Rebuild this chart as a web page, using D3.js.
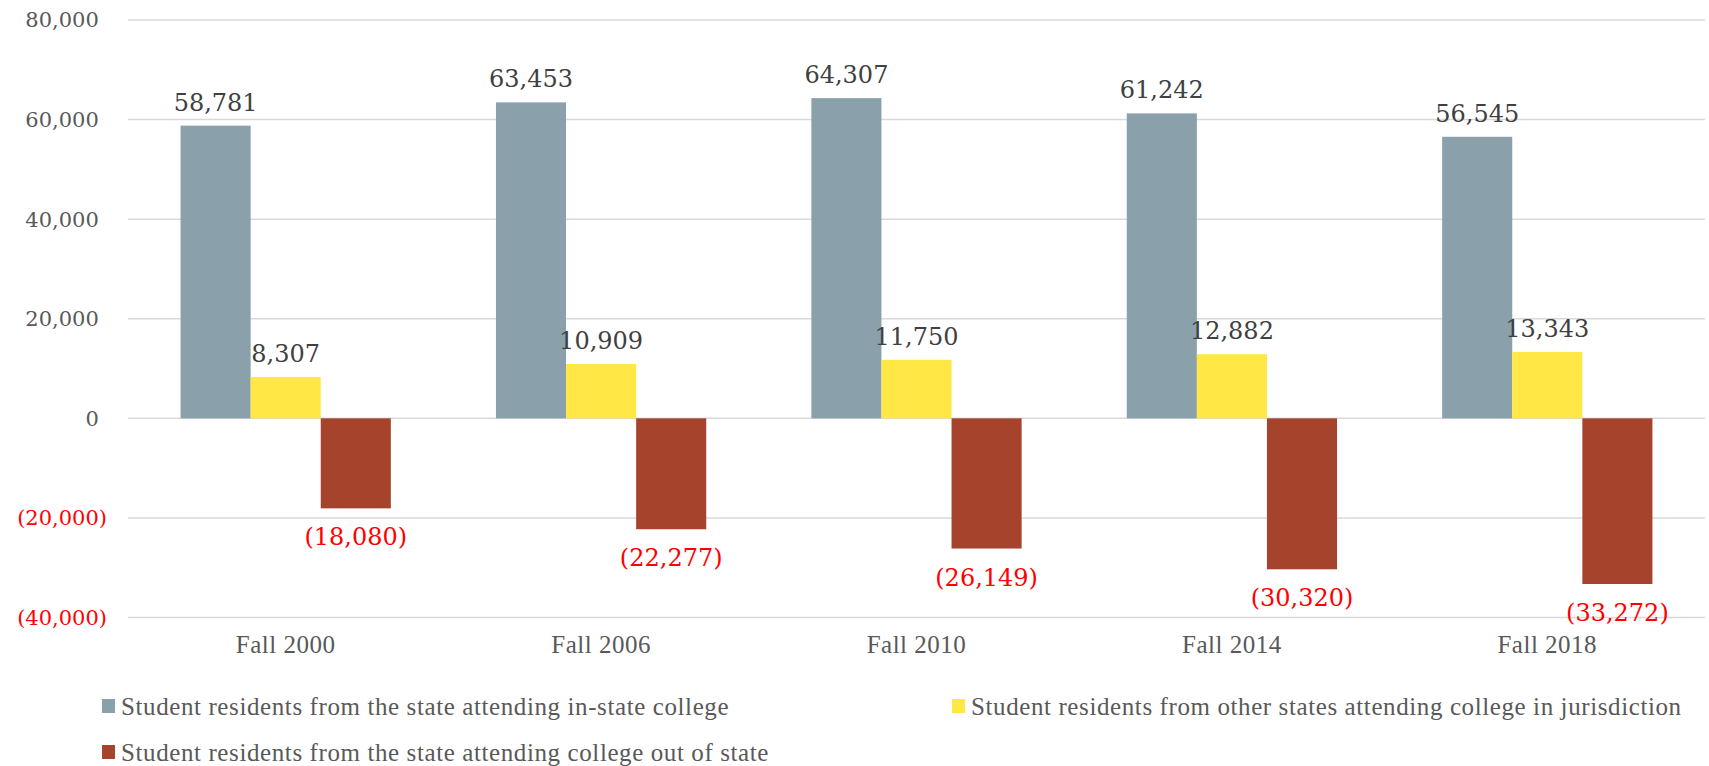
<!DOCTYPE html>
<meta charset="utf-8">
<head>
    <style>
        *{
            padding: 0;
            margin: 0;
        }
        html,body{
            width: 100%;
            height: 100%;
            background: #fff;
        }
        svg{
            display: block;
        }
        .num{
            font-family: "DejaVu Serif", Georgia, serif;
        }
        .txt{
            font-family: "Liberation Serif", "Times New Roman", serif;
        }
    </style>
</head>
<body>
    <svg id="chart" width="1709" height="766"></svg>

    <script src="https://cdn.jsdelivr.net/npm/d3@7"></script>
    <script>
        // data
        var categories = ["Fall 2000", "Fall 2006", "Fall 2010", "Fall 2014", "Fall 2018"];
        var inState = [58781, 63453, 64307, 61242, 56545];
        var otherStates = [8307, 10909, 11750, 12882, 13343];
        var outOfState = [-18080, -22277, -26149, -30320, -33272];
        var yTicks = [-40000, -20000, 0, 20000, 40000, 60000, 80000];
        var seriesNames = [
            "Student residents from the state attending in-state college",
            "Student residents from other states attending college in jurisdiction",
            "Student residents from the state attending college out of state"
        ];

        var seriesKeys = ["inState", "otherStates", "outOfState"];
        var colors = ["#8aa0ab", "#ffe845", "#a5432c"];
        var seriesValues = [inState, otherStates, outOfState];

        var svg = d3.select("#chart");

        var plotLeft = 128, plotRight = 1705, plotTop = 20, plotBottom = 617.5;

        var y = d3.scaleLinear()
            .domain([-40000, 80000])
            .range([plotBottom, plotTop]);

        var x0 = d3.scaleBand()
            .domain(categories)
            .range([plotLeft, plotRight])
            .padding(0);

        var bw = x0.bandwidth();
        var x1 = d3.scaleBand()
            .domain(seriesKeys)
            .range([bw / 6, bw * 5 / 6])
            .padding(0);

        var color = d3.scaleOrdinal(seriesKeys, colors);
        var fmt = d3.format(",");
        function paren(v) { return v < 0 ? "(" + fmt(-v) + ")" : fmt(v); }

        // gridlines
        svg.append("g")
            .selectAll("line")
            .data(yTicks)
            .enter().append("line")
            .attr("x1", plotLeft)
            .attr("x2", plotRight)
            .attr("y1", function(d) { return y(d); })
            .attr("y2", function(d) { return y(d); })
            .attr("stroke", "#d9d9d9")
            .attr("stroke-width", 1.5);

        // y tick labels, positives keep a hidden ")" like the excel "_)" format
        var tl = svg.append("g")
            .selectAll("text")
            .data(yTicks)
            .enter().append("text")
            .attr("class", "num")
            .attr("x", 107)
            .attr("y", function(d) { return y(d); })
            .attr("dy", "0.35em")
            .attr("text-anchor", "end")
            .attr("font-size", 21)
            .attr("fill", function(d) { return d < 0 ? "#ff0000" : "#595959"; })
            .text(function(d) { return paren(d); });
        tl.filter(function(d) { return d >= 0; })
            .append("tspan")
            .attr("fill-opacity", 0)
            .text(")");

        // rows for bars
        var rows = [];
        for (var i = 0; i < categories.length; i++) {
            for (var j = 0; j < seriesKeys.length; j++) {
                rows.push({cat: categories[i], key: seriesKeys[j], value: seriesValues[j][i]});
            }
        }

        var cell = svg.append("g")
            .selectAll("g")
            .data(rows)
            .enter().append("g")
            .attr("transform", function(d) { return "translate(" + (x0(d.cat) + x1(d.key)) + ",0)"; });

        cell.append("rect")
            .attr("x", 0)
            .attr("width", x1.bandwidth())
            .attr("y", function(d) { return y(Math.max(0, d.value)); })
            .attr("height", function(d) { return Math.abs(y(d.value) - y(0)); })
            .attr("fill", function(d) { return color(d.key); });

        cell.append("text")
            .attr("class", "num")
            .attr("x", x1.bandwidth() / 2)
            .attr("y", function(d) { return d.value < 0 ? y(d.value) + 37 : y(d.value) - 15; })
            .attr("text-anchor", "middle")
            .attr("font-size", 24)
            .attr("fill", function(d) { return d.value < 0 ? "#ff0000" : "#404040"; })
            .text(function(d) { return paren(d.value); });

        // category labels
        svg.append("g")
            .selectAll("text")
            .data(categories)
            .enter().append("text")
            .attr("class", "txt")
            .attr("x", function(d) { return x0(d) + bw / 2; })
            .attr("y", 653)
            .attr("text-anchor", "middle")
            .attr("font-size", 25)
            .attr("letter-spacing", 0.5)
            .attr("fill", "#595959")
            .text(function(d) { return d; });

        // legend
        var legendPos = [[102, 706], [952, 706], [102, 752]];
        var lg = svg.append("g")
            .selectAll("g")
            .data(seriesNames)
            .enter().append("g")
            .attr("transform", function(d, i) { return "translate(" + legendPos[i][0] + "," + legendPos[i][1] + ")"; });

        lg.append("rect")
            .attr("x", 0)
            .attr("y", -7)
            .attr("width", 13)
            .attr("height", 14)
            .attr("fill", function(d, i) { return colors[i]; });

        lg.append("text")
            .attr("class", "txt")
            .attr("x", 19)
            .attr("dy", "0.35em")
            .attr("font-size", 25)
            .attr("letter-spacing", 0.6)
            .attr("fill", "#595959")
            .text(function(d) { return d; });
    </script>
</body>
